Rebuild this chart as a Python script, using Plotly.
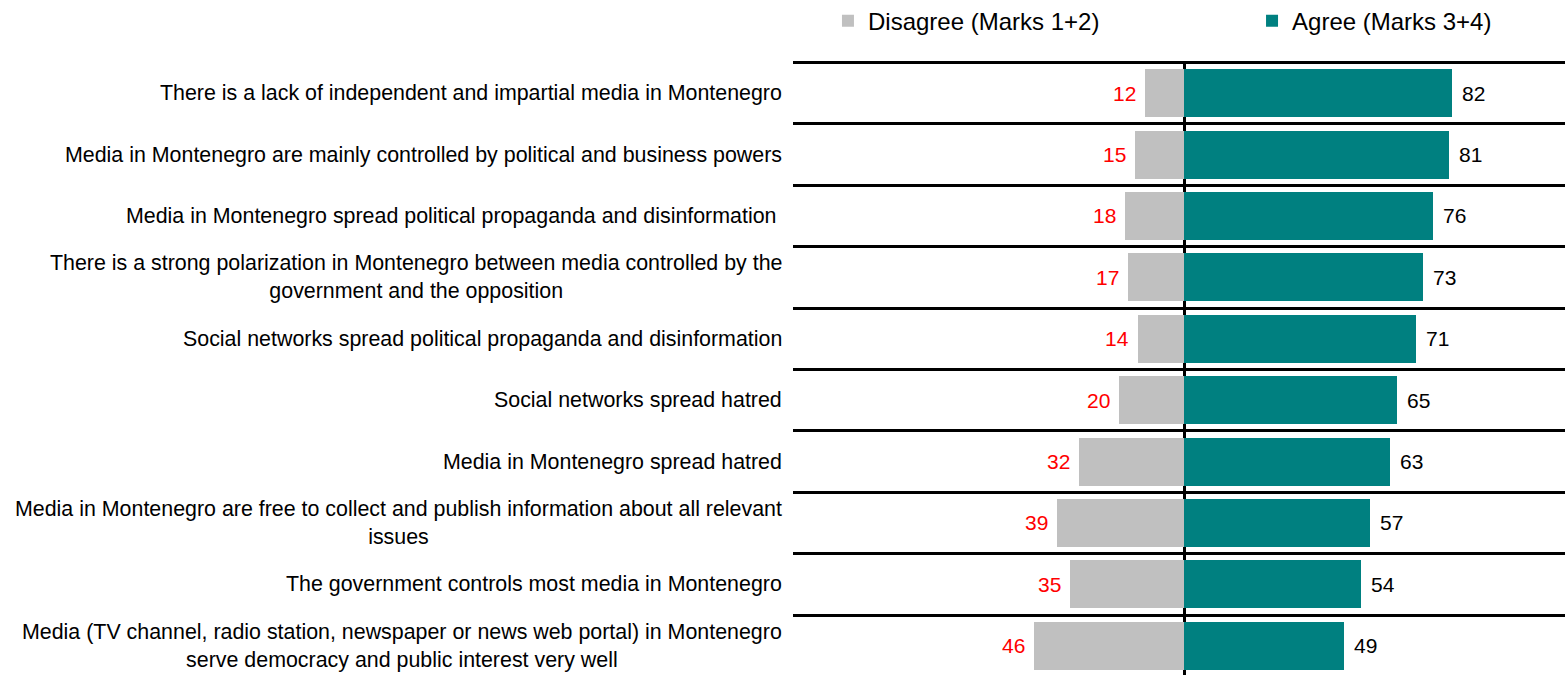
import plotly.graph_objects as go

# Survey statements, top to bottom
statements = [
    "There is a lack of independent and impartial media in Montenegro",
    "Media in Montenegro are mainly controlled by political and business powers",
    "Media in Montenegro spread political propaganda and disinformation ",
    "There is a strong polarization in Montenegro between media controlled by the<br>government and the opposition",
    "Social networks spread political propaganda and disinformation",
    "Social networks spread hatred",
    "Media in Montenegro spread hatred",
    "Media in Montenegro are free to collect and publish information about all relevant<br>issues",
    "The government controls most media in Montenegro",
    "Media (TV channel, radio station, newspaper or news web portal) in Montenegro<br>serve democracy and public interest very well",
]

# Shares of respondents (%)
disagree = [12, 15, 18, 17, 14, 20, 32, 39, 35, 46]
agree = [82, 81, 76, 73, 71, 65, 63, 57, 54, 49]

GREY = "#C0C0C0"
TEAL = "#008080"
FONT = "Liberation Sans, Arial, sans-serif"

pos = list(range(len(statements)))

fig = go.Figure()
fig.add_trace(go.Bar(
    y=pos, x=[-v for v in disagree], orientation="h",
    name="Disagree (Marks 1+2)", marker=dict(color=GREY, line=dict(width=0)),
    width=0.78, customdata=disagree, legend="legend",
    hovertemplate="%{customdata}<extra>Disagree</extra>",
))
fig.add_trace(go.Bar(
    y=pos, x=agree, orientation="h",
    name="Agree (Marks 3+4)", marker=dict(color=TEAL, line=dict(width=0)),
    width=0.78, legend="legend2",
    hovertemplate="%{x}<extra>Agree</extra>",
))

annotations = []
# statement labels, right-aligned to the plot, lines centred
for i, s in zip(pos, statements):
    annotations.append(dict(
        x=0, xref="paper", y=i, yref="y", text=s, showarrow=False,
        xanchor="right", yanchor="middle", align="center", xshift=-9,
        font=dict(family=FONT, size=21.4, color="#000000"),
    ))
# value labels
for i, v in zip(pos, disagree):
    annotations.append(dict(
        x=-v, y=i, xref="x", yref="y", text=str(v), showarrow=False,
        xanchor="right", yanchor="middle", xshift=-7,
        font=dict(family=FONT, size=21, color="#FF0000"),
    ))
for i, v in zip(pos, agree):
    annotations.append(dict(
        x=v, y=i, xref="x", yref="y", text=str(v), showarrow=False,
        xanchor="left", yanchor="middle", xshift=8,
        font=dict(family=FONT, size=21, color="#000000"),
    ))

legend_style = dict(
    orientation="h", xanchor="left", y=1.065, yanchor="middle",
    font=dict(family=FONT, size=24, color="#000000"),
    itemclick=False, itemdoubleclick=False,
    bgcolor="rgba(0,0,0,0)",
)

fig.update_layout(
    width=1565, height=675,
    margin=dict(l=793, r=0, t=61, b=0, pad=0, autoexpand=False),
    paper_bgcolor="white", plot_bgcolor="white",
    barmode="relative", bargap=0,
    showlegend=True,
    legend=dict(x=0.0453, **legend_style),
    legend2=dict(x=0.5946, **legend_style),
    xaxis=dict(
        range=[-119.6, 116.5], showgrid=False, showticklabels=False, ticks="",
        zeroline=True, zerolinecolor="#000000", zerolinewidth=2.5,
        fixedrange=True,
    ),
    yaxis=dict(
        range=[9.476, -0.524], tickmode="array",
        tickvals=[p - 0.5 for p in pos], showticklabels=False, ticks="",
        showgrid=True, gridcolor="#000000", gridwidth=2.5,
        zeroline=False, fixedrange=True,
    ),
    annotations=annotations,
    hoverlabel=dict(font=dict(family=FONT)),
)

fig.write_html("out.html")
